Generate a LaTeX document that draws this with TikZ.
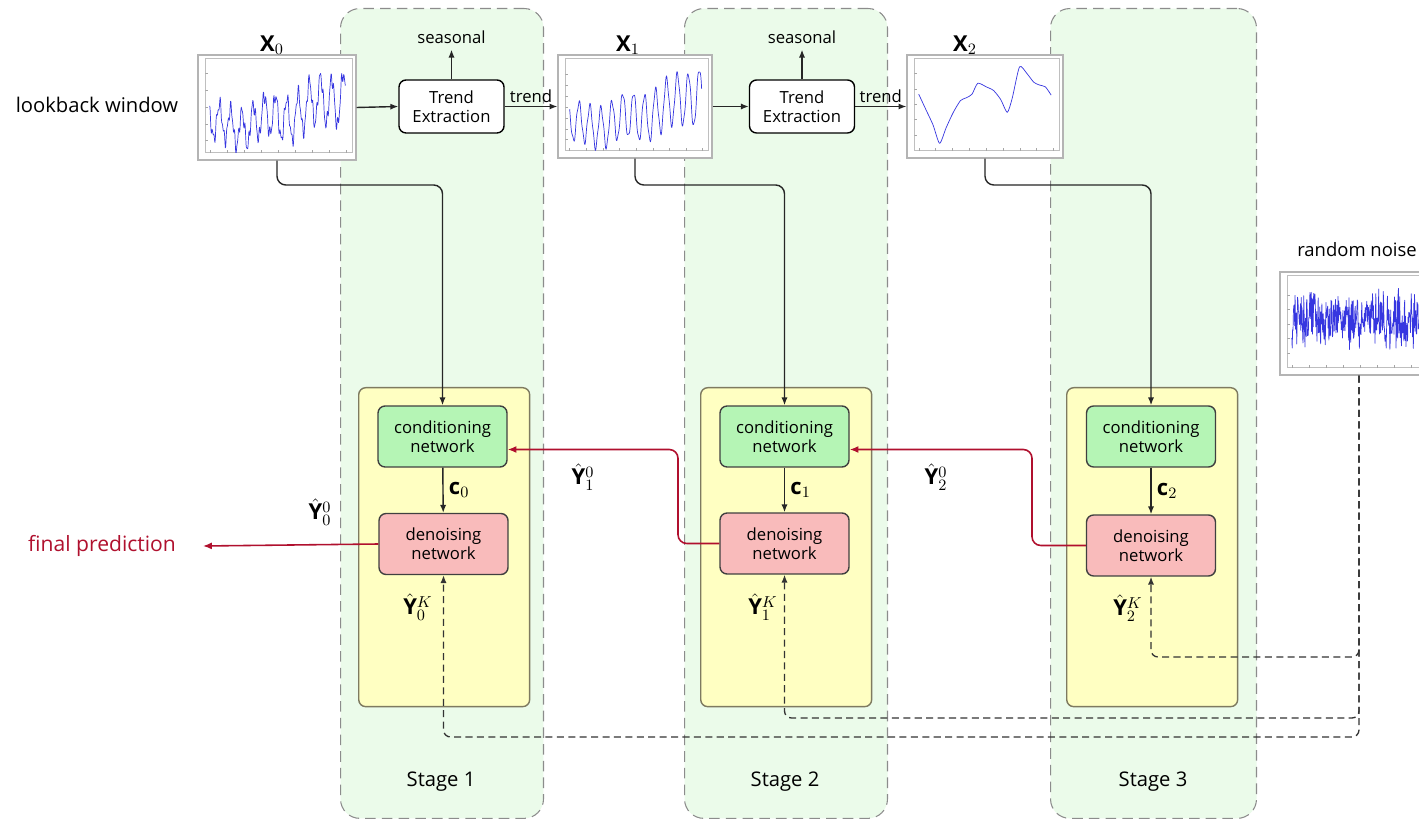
\documentclass[tikz,border=0pt]{standalone}
\usepackage{fontspec}
\setmainfont{Open Sans}
\usetikzlibrary{arrows.meta,calc}

\definecolor{stagefill}{HTML}{EBFBEA}
\definecolor{stageline}{HTML}{8C8C8C}
\definecolor{blockfill}{HTML}{FFFFC2}
\definecolor{blockline}{HTML}{7E7A60}
\definecolor{condfill}{HTML}{B5F5B5}
\definecolor{denfill}{HTML}{F9BBBB}
\definecolor{predred}{HTML}{B0102E}
\definecolor{seriesblue}{HTML}{3636E0}
\definecolor{frameline}{HTML}{B4B4B4}

\tikzset{
  stagepanel/.style={draw=stageline, fill=stagefill, line width=0.6pt,
    dash pattern=on 6pt off 3.5pt, rounded corners=11pt, anchor=north west},
  stageblock/.style={draw=blockline, fill=blockfill, line width=0.8pt,
    rounded corners=4pt, minimum width=3.42cm, minimum height=6.38cm, anchor=north west},
  netbox/.style={draw=black!75, line width=0.8pt, rounded corners=4pt,
    minimum width=2.58cm, minimum height=1.22cm, align=center,
    font=\fontsize{9.5}{11}\selectfont},
  condbox/.style={netbox, fill=condfill},
  denbox/.style={netbox, fill=denfill},
  trendbox/.style={draw=black, fill=white, line width=0.8pt, rounded corners=4pt,
    minimum width=2.1cm, minimum height=1.06cm, align=center, inner sep=1pt,
    font=\fontsize{9.5}{11}\selectfont},
  plotframe/.style={draw=frameline, fill=white, line width=0.7pt, inner sep=0pt},
  plotaxis/.style={draw=black!25, line width=0.3pt},
  plottick/.style={draw=black!35, line width=0.25pt},
  seriesline/.style={draw=seriesblue, line width=0.4pt, line join=round},
  conn/.style={draw=black!85, line width=0.8pt, -{Latex[length=4.5pt,width=3.5pt]}},
  redconn/.style={draw=predred, line width=0.9pt, -{Latex[length=5pt,width=4pt]}},
  noiseconn/.style={draw=black!80, line width=0.75pt, dash pattern=on 4pt off 2.5pt,
    -{Latex[length=4.5pt,width=3.5pt]}},
  txt/.style={font=\fontsize{10.5}{12}\selectfont},
  mlab/.style={font=\fontsize{12.5}{14}\selectfont, inner sep=1pt},
}

% a small chart: outer frame, inner axes box
\newcommand\chartframe[4]{% name, centre, outer width, outer height (cm)
  \node[plotframe, minimum width=#3cm, minimum height=#4cm] (#1) at (#2) {};
  \draw[plotaxis] ([shift={(0.16cm,0.16cm)}]#1.south west)
     rectangle ([shift={(-0.08cm,-0.08cm)}]#1.north east);
}

\begin{document}
\begin{tikzpicture}[x=0.02cm, y=-0.02cm]
\useasboundingbox[fill=white] (0,0) rectangle (1419,820);

% ---------- stage panels ----------
\node[stagepanel, minimum width=4.06cm, minimum height=16.2cm] (st1) at (340,8) {};
\node[stagepanel, minimum width=4.06cm, minimum height=16.2cm] (st2) at (684,8) {};
\node[stagepanel, minimum width=4.12cm, minimum height=16.2cm] (st3) at (1050,8) {};
\node[txt, font=\fontsize{11.5}{13}\selectfont] (sl1) at (441,782) {Stage 1};
\node[txt, font=\fontsize{11.5}{13}\selectfont] (sl2) at (785,782) {Stage 2};
\node[txt, font=\fontsize{11.5}{13}\selectfont] (sl3) at (1153,782) {Stage 3};

% ---------- stage blocks ----------
\node[stageblock] (blk1) at (358,387) {};
\node[stageblock] (blk2) at (700,387) {};
\node[stageblock] (blk3) at (1066,387) {};

\node[condbox] (cond1) at (442.5,436.5) {conditioning\\network};
\node[denbox]  (den1)  at (443.5,544)   {denoising\\network};
\node[condbox] (cond2) at (784.5,436.5) {conditioning\\network};
\node[denbox]  (den2)  at (784.5,543.5) {denoising\\network};
\node[condbox] (cond3) at (1151,436.5)  {conditioning\\network};
\node[denbox]  (den3)  at (1151,545.5)  {denoising\\network};

\draw[conn] (cond1) -- node[mlab, right=2pt] (c0) {$\mathbf{c}_0$} (den1);
\draw[conn] (cond2) -- node[mlab, right=2pt] (c1) {$\mathbf{c}_1$} (den2);
\draw[conn] (cond3) -- node[mlab, right=2pt] (c2) {$\mathbf{c}_2$} (den3);

% ---------- charts ----------
\chartframe{x0img}{277,107.5}{3.16}{2.1}
\begin{scope}[shift={([shift={(0.16cm,0.16cm)}]x0img.south west)}, x=2.92cm, y=1.86cm]
  \clip (0,0) rectangle (1,1);
  \foreach \i in {0,...,8} \draw[plottick] (0.03+\i*0.117,0) -- ++(0,0.03);
  \foreach \j in {1,...,5} \draw[plottick] (0,\j*0.18-0.05) -- ++(0.02,0);
  \draw[seriesline] plot[domain=0.03:0.96, samples=340]
    (\x, {0.28+0.4*\x*\x+0.06*sin(mod(3*\x,1)*360)+(0.17+0.1*\x)*sin(mod(13*\x,1)*360)+0.06*sin(mod(41*\x,1)*360+30)+0.035*sin(mod(71*\x,1)*360)});
\end{scope}
\node[mlab] (x0lab) at (272,45) {$\mathbf{X}_0$};

\chartframe{x1img}{635,106.5}{3.08}{2.06}
\begin{scope}[shift={([shift={(0.16cm,0.16cm)}]x1img.south west)}, x=2.84cm, y=1.82cm]
  \clip (0,0) rectangle (1,1);
  \foreach \i in {0,...,8} \draw[plottick] (0.03+\i*0.117,0) -- ++(0,0.03);
  \foreach \j in {1,...,7} \draw[plottick] (0,\j*0.12) -- ++(0.02,0);
  \draw[seriesline] plot[domain=0.03:0.96, samples=320]
    (\x, {0.27+0.42*\x*\x+0.05*sin(mod(3*\x,1)*360)+(0.2+0.1*\x)*sin(mod(13*\x,1)*360)+0.03*sin(mod(41*\x,1)*360+30)});
\end{scope}
\node[mlab] (x1lab) at (628,45) {$\mathbf{X}_1$};

\chartframe{x2img}{985,106.5}{3.12}{2.06}
\begin{scope}[shift={([shift={(0.16cm,0.16cm)}]x2img.south west)}, x=2.88cm, y=1.82cm]
  \clip (0,0) rectangle (1,1);
  \foreach \i in {0,...,8} \draw[plottick] (0.03+\i*0.117,0) -- ++(0,0.03);
  \foreach \j in {1,...,5} \draw[plottick] (0,\j*0.17) -- ++(0.02,0);
  \draw[seriesline] plot[smooth, tension=0.4] coordinates {
    (0.03,0.62) (0.08,0.45) (0.13,0.28) (0.175,0.08) (0.22,0.25) (0.27,0.42)
    (0.32,0.55) (0.36,0.58) (0.40,0.62) (0.44,0.74) (0.50,0.70) (0.55,0.66)
    (0.60,0.56) (0.645,0.42) (0.68,0.58) (0.73,0.92) (0.78,0.85) (0.83,0.75)
    (0.87,0.72) (0.91,0.70) (0.95,0.61)};
\end{scope}
\node[mlab] (x2lab) at (965,45) {$\mathbf{X}_2$};

\chartframe{noise}{1359,323.5}{3.16}{2.06}
\begin{scope}[shift={([shift={(0.16cm,0.16cm)}]noise.south west)}, x=2.92cm, y=1.82cm]
  \clip (0,0) rectangle (1,1);
  \foreach \i in {0,...,8} \draw[plottick] (0.03+\i*0.117,0) -- ++(0,0.03);
  \foreach \j in {1,...,5} \draw[plottick] (0,\j*0.16) -- ++(0.02,0);
  \pgfmathsetseed{17}
  \draw[seriesline] plot[domain=0.03:0.99, samples=340]
    (\x, {0.52+0.26*rand+0.12*rand});
\end{scope}
\node[txt] (noiselab) at (1357,250) {random noise};

% ---------- trend extraction ----------
\node[txt, font=\fontsize{11.5}{13}\selectfont] (lookback) at (97,105) {lookback window};
\node[trendbox] (te1) at (451.5,106.5) {Trend\\Extraction};
\node[trendbox] (te2) at (802,106.5) {Trend\\Extraction};
\node[txt, font=\fontsize{9.5}{11}\selectfont] (seas1) at (451.5,37) {seasonal};
\node[txt, font=\fontsize{9.5}{11}\selectfont] (seas2) at (802,37) {seasonal};

\draw[conn] (x0img.east) -- (te1.west);
\draw[conn] (te1.north) -- (seas1.south);
\draw[conn] (te1.east) -- node[above, txt, font=\fontsize{9.5}{11}\selectfont, inner sep=2pt] (tr1) {trend} (x1img.west);
\draw[conn] (x1img.east) -- (te2.west);
\draw[conn] (te2.north) -- (seas2.south);
\draw[conn] (te2.east) -- node[above, txt, font=\fontsize{9.5}{11}\selectfont, inner sep=2pt] (tr2) {trend} (x2img.west);

% ---------- conditioning inputs ----------
\coordinate (row) at (0,185);
\draw[conn, rounded corners=5pt] (x0img.south) -- (x0img.south |- row) -- (cond1.north |- row) -- (cond1.north);
\draw[conn, rounded corners=5pt] (x1img.south) -- (x1img.south |- row) -- (cond2.north |- row) -- (cond2.north);
\draw[conn, rounded corners=5pt] (x2img.south) -- (x2img.south |- row) -- (cond3.north |- row) -- (cond3.north);

% ---------- predictions passed back ----------
\coordinate (turn1) at (678,0);
\coordinate (turn2) at (1032,0);
\draw[redconn, rounded corners=5pt] (den2.west) -- (den2.west -| turn1) |- ([yshift=-0.26cm]cond1.east);
\draw[redconn, rounded corners=5pt] (den3.west) -- (den3.west -| turn2) |- ([yshift=-0.26cm]cond2.east);
\node[mlab] (y10) at (583,477) {$\hat{\mathbf{Y}}^{0}_{1}$};
\node[mlab] (y20) at (936,477) {$\hat{\mathbf{Y}}^{0}_{2}$};
\node[mlab] (y00) at (320,512) {$\hat{\mathbf{Y}}^{0}_{0}$};

\node[txt, text=predred, font=\fontsize{12}{14}\selectfont] (fp) at (102,546) {final prediction};
\draw[redconn] (den1.west) -- ([xshift=0.42cm]fp.east);

% ---------- noise inputs ----------
\coordinate (n1) at (0,737);
\coordinate (n2) at (0,718);
\coordinate (n3) at (0,657);
\draw[noiseconn, rounded corners=4pt] (noise.south) -- (noise.south |- n1) -| (den1.south);
\draw[noiseconn, rounded corners=4pt] (noise.south) -- (noise.south |- n2) -| (den2.south);
\draw[noiseconn, rounded corners=4pt] (noise.south) -- (noise.south |- n3) -| (den3.south);
\node[mlab] (y0k) at (418,607) {$\hat{\mathbf{Y}}^{K}_{0}$};
\node[mlab] (y1k) at (763,607) {$\hat{\mathbf{Y}}^{K}_{1}$};
\node[mlab] (y2k) at (1128,608) {$\hat{\mathbf{Y}}^{K}_{2}$};
\end{tikzpicture}
\end{document}
